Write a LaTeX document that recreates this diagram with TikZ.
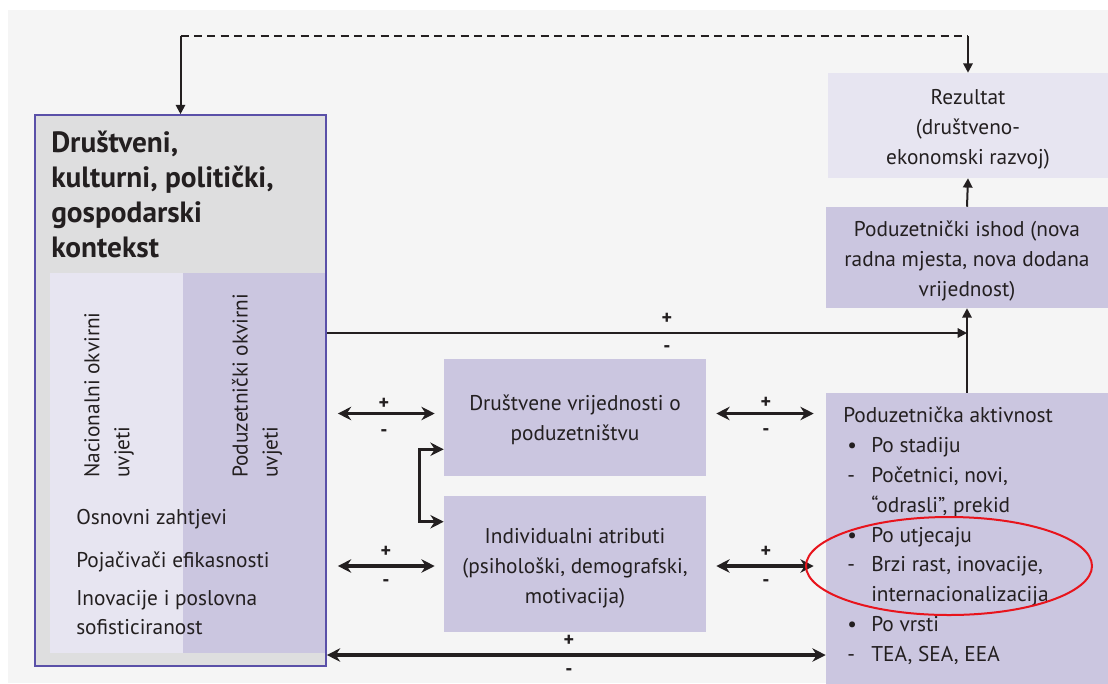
\documentclass[tikz,border=0pt]{standalone}
\usepackage{fontspec}
\setmainfont{PT Sans}
\usetikzlibrary{arrows.meta,fit,calc}
\definecolor{bgc}{HTML}{F5F5F5}
\definecolor{ctxgray}{HTML}{DEDEDF}
\definecolor{outl}{HTML}{5A50A8}
\definecolor{lavl}{HTML}{E7E5F1}
\definecolor{lavd}{HTML}{CBC6E0}
\definecolor{txt}{HTML}{231F20}
\definecolor{ered}{HTML}{E8141C}
\begin{document}
\begin{tikzpicture}[x=0.75pt,y=-0.75pt,
  body/.style={font=\fontsize{16}{22.5}\selectfont, text=txt},
  boxn/.style={body, inner sep=0pt, align=center},
  thinl/.style={line width=1.5pt, draw=txt},
  arr/.style={thinl, -{Triangle[length=7pt,width=7pt]}},
  dbl/.style={line width=2.6pt, draw=txt, {Stealth[length=10pt,width=10pt]}-{Stealth[length=10pt,width=10pt]}},
  pm/.style={font=\fontsize{15}{15}\selectfont\bfseries, text=txt, inner sep=0pt}]
\useasboundingbox (0,0) rectangle (1108,683);
\fill[white] (0,0) rectangle (1108,683);
\fill[bgc] (8,10) rectangle (1108,683);

% context box
\node[fit={(35,115) (326,666)}, inner sep=0pt, fill=ctxgray, draw=outl, line width=1.2pt] (ctx) {};
\fill[lavl] (50,273) rectangle (183,653);
\fill[lavd] (183,273) rectangle (325,653);
\node[anchor=north west, align=left, inner sep=0pt, text=txt,
      font=\fontsize{22}{26.25}\selectfont\bfseries] (ttl) at (51,131)
      {Društveni,\\kulturni, politički,\\gospodarski\\kontekst};
\node[body, rotate=90, anchor=west, align=left, inner sep=0pt] (nac) at (109,478) {Nacionalni okvirni\\uvjeti};
\node[body, rotate=90, anchor=west, align=left, inner sep=0pt] (pod) at (257,478) {Poduzetnički okvirni\\uvjeti};
\node[body, anchor=base west, inner sep=0pt] (osn) at (76,524) {Osnovni zahtjevi};
\node[body, anchor=base west, inner sep=0pt] (poj) at (76,567) {Pojačivači efikasnosti};
\node[body, anchor=base west, inner sep=0pt] (ino) at (76,605) {Inovacije i poslovna};
\node[body, anchor=base west, inner sep=0pt] (sof) at (76,634) {sofisticiranost};

% middle boxes
\node[fit={(444,359) (706,476)}, fill=lavd, inner sep=0pt] (val) {};
\node[boxn] (valt) at ($(val.center)+(0,2)$) {Društvene vrijednosti o\\poduzetništvu};
\node[fit={(444,496) (706,632)}, fill=lavd, inner sep=0pt] (attr) {};
\node[boxn] (attrt) at ($(attr.center)+(0,4)$) {Individualni atributi\\(psihološki, demografski,\\motivacija)};

% right boxes
\node[fit={(828,73) (1108,178)}, fill=lavl, inner sep=0pt] (rez) {};
\node[boxn] (rezt) at ($(rez.center)+(0,4)$) {Rezultat\\(društveno-\\ekonomski razvoj)};
\node[fit={(826,207) (1108,308)}, fill=lavd, inner sep=0pt] (ish) {};
\node[boxn] (isht) at ($(ish.center)+(0,4)$) {Poduzetnički ishod (nova\\radna mjesta, nova dodana\\vrijednost)};
\node[fit={(826,393) (1108,690)}, fill=lavd, inner sep=0pt] (akt) {};
\node[body, anchor=north west, align=left, inner sep=0pt, font=\fontsize{16}{22.35}\selectfont] (akttxt) at (843,407)
{Poduzetnička aktivnost\\
\hspace*{3pt}\makebox[18pt][l]{•}Po stadiju\\
\hspace*{3pt}\makebox[18pt][l]{-}Početnici, novi,\\
\hspace*{21pt}“odrasli”, prekid\\
\hspace*{3pt}\makebox[18pt][l]{•}Po utjecaju\\
\hspace*{3pt}\makebox[18pt][l]{-}Brzi rast, inovacije,\\
\hspace*{21pt}internacionalizacija\\
\hspace*{3pt}\makebox[18pt][l]{•}Po vrsti\\
\hspace*{3pt}\makebox[18pt][l]{-}TEA, SEA, EEA};

% feedback dashed loop
\coordinate (tl) at (ctx.north |- 0,36);
\coordinate (tr) at (rez.north |- 0,36);
\draw[arr] (tl) -- (ctx.north);
\draw[thinl, dash pattern=on 6pt off 4pt] (tl) -- (tr);
\draw[arr] (tr) -- (rez.north);

% vertical chain
\draw[arr] (ish.north) -- (rez.south);
\draw[arr] (akt.north) -- (ish.south);
\coordinate (j) at (akt.north |- 0,333);
\draw[arr] (ctx.east |- j) -- (j);
\node[pm] (p1) at (667,319) {+};
\node[pm] (m1) at (667,349) {-};

% double arrows
\draw[dbl] ($(ctx.east |- val.west)+(11,-4)$) -- ($(val.west)+(-9,-4)$);
\node[pm] (p2) at (384,404) {+};
\node[pm] (m2) at (384,433) {-};
\draw[dbl] ($(val.east)+(10,-4)$) -- ($(akt.west |- val.east)+(-12,-4)$);
\node[pm] (p3) at (766,403) {+};
\node[pm] (m3) at (766,432) {-};
\draw[dbl] ($(ctx.east |- attr.west)+(11,2)$) -- ($(attr.west)+(-9,2)$);
\node[pm] (p4) at (386,552) {+};
\node[pm] (m4) at (386,583) {-};
\draw[dbl] ($(attr.east)+(10,2)$) -- ($(akt.west |- attr.east)+(-12,2)$);
\node[pm] (p5) at (766,552) {+};
\node[pm] (m5) at (766,583) {-};
\coordinate (b) at (0,655);
\draw[dbl] (ctx.east |- b) -- (akt.west |- b);
\node[pm] (p6) at (569,641) {+};
\node[pm] (m6) at (569,672) {-};

% bracket between val and attr
\draw[dbl] ($(val.south west)+(0,-27)$) -- ++(-24,0) |- ($(attr.north west)+(0,26)$);

% red ellipse
\draw[ered, line width=1.5pt] (949,566) ellipse [x radius=107.25pt, y radius=36.75pt];
\end{tikzpicture}
\end{document}
